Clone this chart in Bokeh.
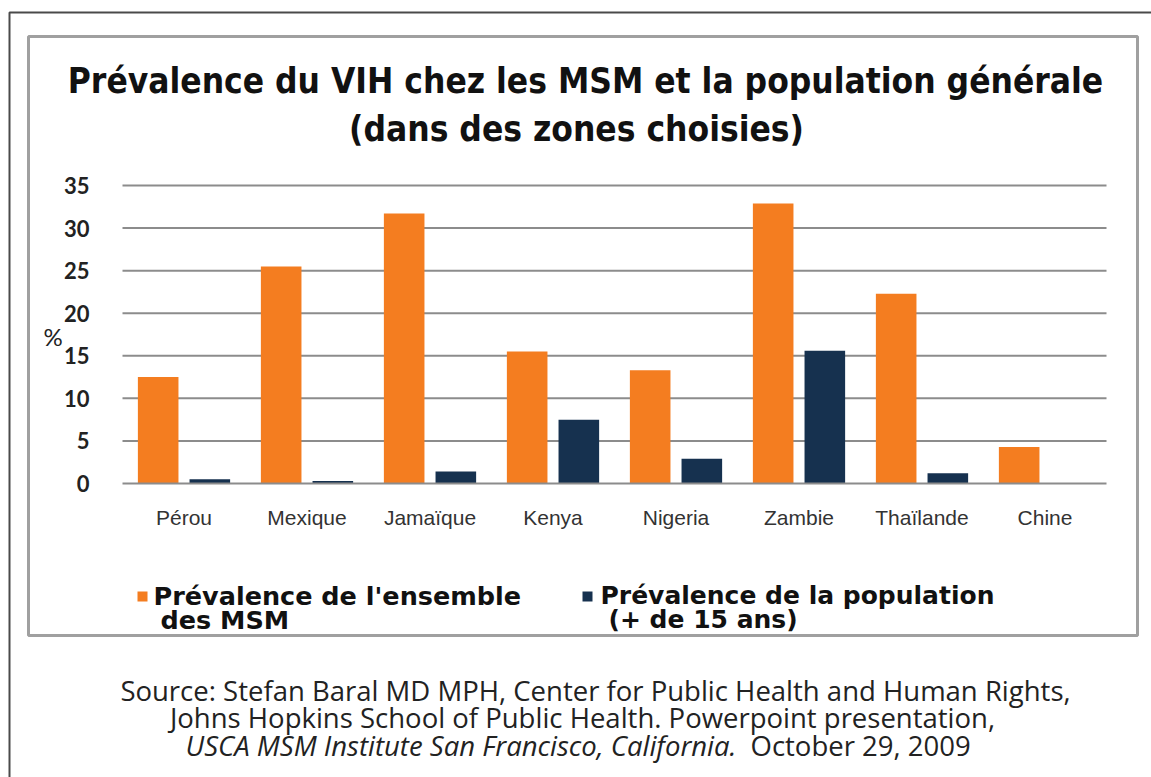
from bokeh.plotting import figure
from bokeh.models import Range1d, Label, BoxAnnotation, ColumnDataSource, FixedTicker
from bokeh.transform import dodge
from bokeh.embed import file_html
from bokeh.resources import INLINE

countries = ["Pérou", "Mexique", "Jamaïque", "Kenya", "Nigeria", "Zambie", "Thaïlande", "Chine"]
msm = [12.5, 25.5, 31.7, 15.5, 13.3, 32.9, 22.3, 4.3]
general = [0.5, 0.3, 1.4, 7.5, 2.9, 15.6, 1.2, 0.0]
y_ticks = [0, 5, 10, 15, 20, 25, 30, 35]

title_lines = ["Prévalence du VIH chez les MSM et la population générale",
               "(dans des zones choisies)"]
legend_msm = ["Prévalence de l'ensemble", "des MSM"]
legend_gen = ["Prévalence de la population", "(+ de 15 ans)"]
source_lines = ["Source: Stefan Baral MD MPH, Center for Public Health and Human Rights,",
                "Johns Hopkins School of Public Health. Powerpoint presentation,"]
source_italic = "USCA MSM Institute San Francisco, California."
source_date = "October 29, 2009"

ORANGE = "#F47D20"
NAVY = "#16314F"
GRID = "#8c8c8c"

W, H = 1151, 777
# plot area in pixels
PL, PR, PT, PB = 122, 1106, 185, 483
n = len(countries)
ymax = y_ticks[-1]
xs_per_px = n / (PR - PL)
ys_per_px = ymax / (PB - PT)


def X(px):
    return (px - PL) * xs_per_px


def Y(py):
    return (PB - py) * ys_per_px


centers = [i + 0.5 for i in range(n)]
src = ColumnDataSource(dict(x=centers, msm=msm, general=general))

p = figure(width=W, height=H, x_range=Range1d(X(0), X(W)), y_range=Range1d(Y(H), Y(0)),
           toolbar_location=None, output_backend="svg",
           min_border_left=0, min_border_right=0, min_border_top=0, min_border_bottom=0)
p.outline_line_color = None
p.background_fill_color = "white"
p.border_fill_color = "white"
p.xgrid.visible = False
p.ygrid.visible = False

# grid lines at the y ticks, across the category span
p.segment(x0=0, x1=n, y0=y_ticks[1:], y1=y_ticks[1:], line_color=GRID, line_width=2)

p.vbar(x=dodge("x", -0.21), top="msm", width=0.33, source=src,
       fill_color=ORANGE, line_color=None)
p.vbar(x=dodge("x", 0.21), top="general", width=0.33, source=src,
       fill_color=NAVY, line_color=None)

# axes, fixed inside the canvas
p.yaxis.fixed_location = 0
p.yaxis.bounds = (0, ymax)
p.yaxis.ticker = FixedTicker(ticks=y_ticks)
p.yaxis.axis_line_color = None
p.yaxis.major_tick_line_color = None
p.yaxis.minor_tick_line_color = None
p.yaxis.major_label_standoff = 27
p.yaxis.major_label_text_font = "Lato"
p.yaxis.major_label_text_font_style = "bold"
p.yaxis.major_label_text_font_size = "22px"
p.yaxis.major_label_text_color = "#222222"

p.xaxis.fixed_location = 0
p.xaxis.bounds = (0, n)
p.xaxis.ticker = FixedTicker(ticks=centers)
p.xaxis.major_label_overrides = {c: name for c, name in zip(centers, countries)}
p.xaxis.axis_line_color = GRID
p.xaxis.axis_line_width = 2
p.xaxis.major_tick_line_color = None
p.xaxis.minor_tick_line_color = None
p.xaxis.major_label_standoff = 16
p.xaxis.major_label_text_font = "Liberation Sans"
p.xaxis.major_label_text_font_size = "21px"
p.xaxis.major_label_text_color = "#333333"

# frames
p.add_layout(BoxAnnotation(left=X(9), right=X(W + 40), top=Y(12), bottom=Y(H + 40),
                           fill_color=None, line_color="#4a4a4a", line_alpha=1,
                           line_width=2, level="underlay"))
p.add_layout(BoxAnnotation(left=X(28), right=X(1137), top=Y(36), bottom=Y(635),
                           fill_color=None, line_color="#a0a0a0", line_alpha=1,
                           line_width=3, level="underlay"))


def lab(px, py, t, size, font="DejaVu Sans Condensed", style="bold", align="center",
        color="#111111"):
    p.add_layout(Label(x=X(px), y=Y(py), text=t,
                       text_font=font, text_font_style=style,
                       text_font_size=size, text_align=align,
                       text_baseline="middle", text_color=color))


lab(585, 80, title_lines[0], "35px")
lab(576, 128, title_lines[1], "35px")
lab(43, 336, "%", "24px", font="Lato", style="normal", align="left", color="#222222")

# legend
p.add_layout(BoxAnnotation(left=X(137), right=X(147), top=Y(591), bottom=Y(601),
                           fill_color=ORANGE, fill_alpha=1, line_color=None))
p.add_layout(BoxAnnotation(left=X(582), right=X(592), top=Y(591), bottom=Y(601),
                           fill_color=NAVY, fill_alpha=1, line_color=None))
lab(153, 595, legend_msm[0], "25.5px", font="DejaVu Sans", align="left")
lab(160, 619, legend_msm[1], "25.5px", font="DejaVu Sans", align="left")
lab(600, 595, legend_gen[0], "25px", font="DejaVu Sans", align="left")
lab(608, 619, legend_gen[1], "25px", font="DejaVu Sans", align="left")

# source
SF = "Open Sans"
lab(595, 690, source_lines[0], "27.5px", font=SF, style="normal", color="#222222")
lab(582, 717, source_lines[1], "27.5px", font=SF, style="normal", color="#222222")
lab(736, 745, source_italic, "27.5px", font=SF, style="italic", align="right", color="#222222")
lab(750, 745, source_date, "27.5px", font=SF, style="normal", align="left", color="#222222")

open("out.html", "w").write(file_html(p, INLINE))
